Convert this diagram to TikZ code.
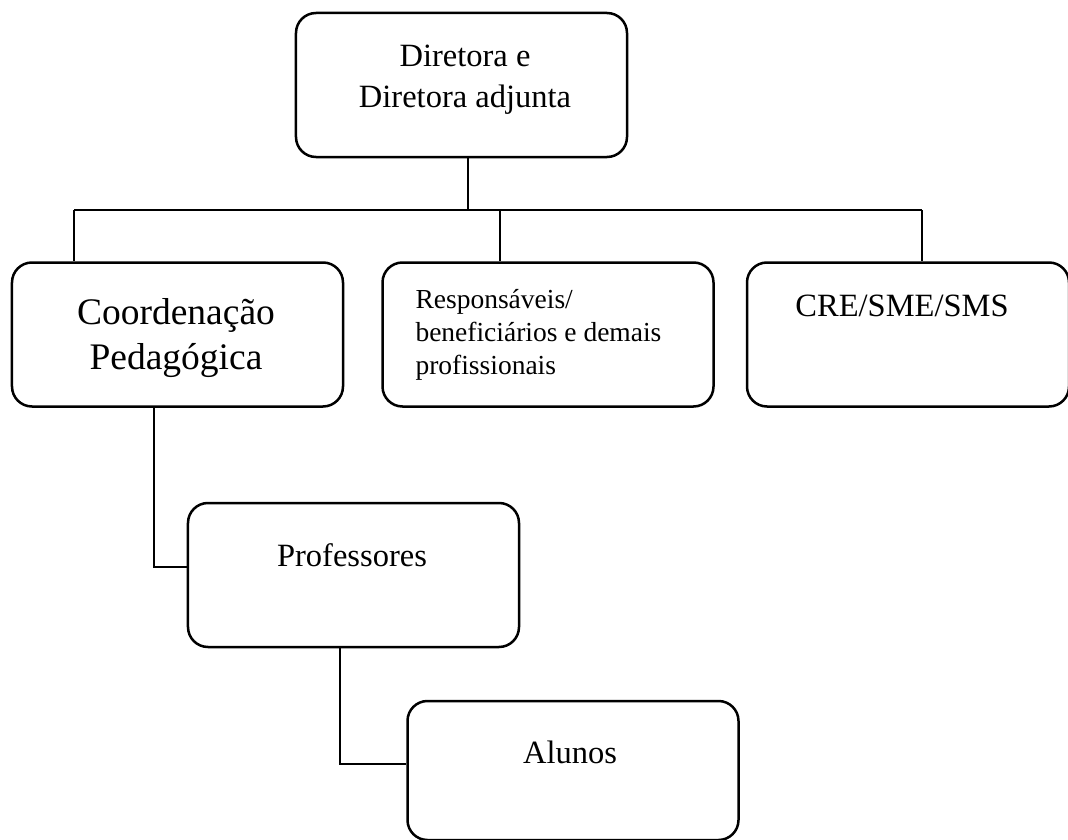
\documentclass[tikz,border=0pt]{standalone}
\usepackage{fontspec}
\setmainfont{Liberation Serif}
\usetikzlibrary{positioning,calc}

\begin{document}
\begin{tikzpicture}[x=0.4pt,y=-0.4pt,
   box/.style={draw,line width=1pt,rounded corners=8pt,minimum width=132.4pt,
               minimum height=57.6pt,inner sep=0pt},
   txt/.style={font=\fontsize{13}{16.4}\selectfont,align=center,inner sep=0pt},
   conn/.style={line width=0.8pt}]
  \useasboundingbox (0,0) rectangle (1068,840);
  % frames
  \node[box] (top) at (461.5,85) {};
  \node[box] (coord) at (177.5,334.5) {};
  \node[box,right=14.8pt of coord] (resp) {};
  \node[box,minimum width=128.8pt,right=12.4pt of resp] (cre) {};
  \node[box] (prof) at (353.5,575) {};
  \node[box,minimum height=55.6pt] (alunos) at (573,770.5) {};
  % texts
  \node[txt] (top-txt) at (465,80) {Diretora e\\Diretora adjunta};
  \node[txt,font=\fontsize{15}{18}\selectfont] (coord-txt) at (176,338)
       {Coordenação\\Pedagógica};
  \node[txt,font=\fontsize{11}{13.2}\selectfont,align=left,anchor=west] (resp-txt)
       at (415,335) {Responsáveis/\\beneficiários e demais\\profissionais};
  \node[txt] (cre-txt) at (902,306) {CRE/SME/SMS};
  \node[txt] (prof-txt) at (352,555) {Professores};
  \node[txt] (alunos-txt) at (570,752) {Alunos};
  % connectors
  \coordinate (bus-l) at (74,210);
  \coordinate (bus-m) at (500,210);
  \coordinate (bus-r) at (922,210);
  \draw[conn] ($(top.south)+(6.5,0)$) -- ($(top.south |- bus-l)+(6.5,0)$);
  \draw[conn] (bus-l) -- (bus-r);
  \draw[conn] (bus-l) -- (bus-l |- coord.north);
  \draw[conn] (bus-m) -- (bus-m |- resp.north);
  \draw[conn] (bus-r) -- (bus-r |- cre.north);
  \draw[conn] ($(coord.south)+(-23.5,0)$) |- ($(prof.west)+(0,-8)$);
  \draw[conn] ($(prof.south)+(-13.5,0)$) |- ($(alunos.west)+(0,-7)$);
\end{tikzpicture}
\end{document}
